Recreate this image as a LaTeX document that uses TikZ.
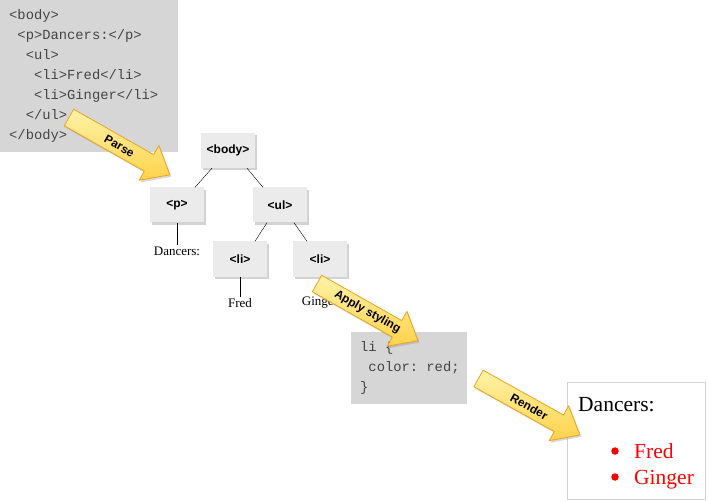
\documentclass[tikz,border=0pt]{standalone}
\usepackage{fontspec}
\setmainfont{Liberation Serif}
\setsansfont{Liberation Sans}
\setmonofont{Liberation Mono}
\usetikzlibrary{shadows}
\definecolor{codegray}{HTML}{D6D6D6}
\definecolor{codetext}{HTML}{444444}
\definecolor{boxgray}{HTML}{EBEBEB}
\definecolor{arrowfill}{HTML}{FFD34A}
\definecolor{arrowlight}{HTML}{FFF2A8}
\definecolor{arrowedge}{HTML}{F0A21E}
\tikzset{
  codebox/.style={fill=codegray, text=codetext, align=left, inner xsep=9pt,
    font=\ttfamily\fontsize{13.8}{20}\selectfont},
  tagbox/.style={fill=boxgray, minimum width=54pt, minimum height=35pt,
    font=\sffamily\bfseries\fontsize{12}{13}\selectfont,
    drop shadow={shadow xshift=1.5pt, shadow yshift=-2.5pt, opacity=.35}},
  textnode/.style={font=\fontsize{13}{14}\selectfont, inner sep=1pt},
  itemtext/.style={text=red, anchor=base west, inner sep=0pt, font=\fontsize{21.5}{24}\selectfont},
  reddot/.style={circle, fill=red, inner sep=0pt, minimum size=7.5pt},
  fatarrow/.style={draw=arrowedge, line width=.8pt, top color=arrowlight, bottom color=arrowfill,
    line join=round, drop shadow={shadow xshift=1.5pt, shadow yshift=-2pt, opacity=.3}},
  arrowlabel/.style={font=\sffamily\bfseries\fontsize{11.8}{13}\selectfont}
}
\newcommand\lvl[1]{\hspace*{#1\dimexpr.6em\relax}}
% tail point, angle, name, label
\newcommand\stagearrow[4]{%
  \begin{scope}[shift={#1}, rotate=#2]
    \draw[fatarrow] (0,9.5)--(92,9.5)--(92,20)--(116,0)--(92,-20)--(92,-9.5)--(0,-9.5)--cycle;
    \node[arrowlabel, rotate=#2] (#3) at (58,0) {#4};
  \end{scope}}
\begin{document}
\begin{tikzpicture}[x=1pt, y=-1pt]
\useasboundingbox (0,0) rectangle (708,502);
% source
\node[codebox, anchor=north west, text width=160pt, minimum height=152pt] (html) at (0,0)
  {<body>\\\lvl1<p>Dancers:</p>\\\lvl2<ul>\\\lvl3<li>Fred</li>\\\lvl3<li>Ginger</li>\\\lvl2</ul>\\</body>};
% tree
\node[tagbox] (body) at (228,150.5) {<body>};
\node[tagbox] (p) at (177,205) {<p>};
\node[tagbox] (ul) at (280,205) {<ul>};
\node[tagbox] (li1) at (240,259) {<li>};
\node[tagbox] (li2) at (320,259) {<li>};
\node[textnode] (dancers) at (177,251) {Dancers:};
\node[textnode] (fred) at (240,303) {Fred};
\node[textnode] (ginger) at (320,303) {Ginger};
\draw ([xshift=-16pt]body.south) -- ([xshift=18pt]p.north);
\draw ([xshift=19pt]body.south) -- ([xshift=-17pt]ul.north);
\draw ([xshift=-13pt]ul.south) -- ([xshift=15pt]li1.north);
\draw ([xshift=14pt]ul.south) -- ([xshift=-13pt]li2.north);
\draw (p.south) -- (dancers.north);
\draw (li1.south) -- (fred.north);
\draw (li2.south) -- (ginger.north);
% style sheet
\node[codebox, anchor=north west, text width=98pt, minimum height=72pt] (css) at (351,332)
  {li\lvl1\{\\\lvl1color:\lvl1red;\\\}};
% result
\node[draw=gray!35, fill=white, line width=.6pt, minimum width=138pt, minimum height=117pt,
  anchor=north west] (page) at (567,382) {};
\node[anchor=base west, inner sep=0pt, font=\fontsize{21.5}{24}\selectfont] (heading) at (578,411) {Dancers:};
\node[reddot] (dot1) at (615,451) {};
\node[reddot] (dot2) at (615,477) {};
\node[itemtext] (item1) at (634,458) {Fred};
\node[itemtext] (item2) at (634,484) {Ginger};
% steps
\stagearrow{(69,117.5)}{-29.6}{parse}{Parse}
\stagearrow{(317,283.5)}{-29.5}{apply}{Apply styling}
\stagearrow{(478.5,378.5)}{-29.1}{render}{Render}
\end{tikzpicture}
\end{document}
